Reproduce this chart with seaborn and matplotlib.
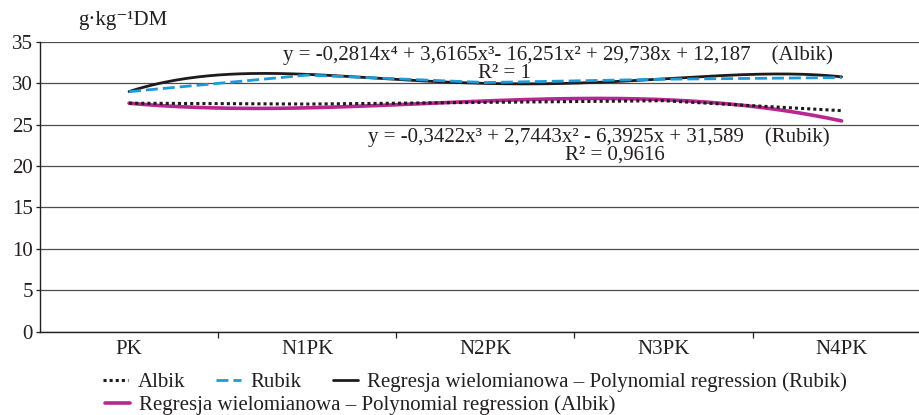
import numpy as np
import matplotlib
matplotlib.use("Agg")
import matplotlib.pyplot as plt
import seaborn as sns

# Values
treatments = ['PK', 'N1PK', 'N2PK', 'N3PK', 'N4PK']
albik = [27.6, 27.5, 27.7, 27.9, 26.7]
rubik = [29.0, 31.0, 30.1, 30.5, 30.7]

# Trendline coefficients as printed on the chart (highest power first, x = 1..5)
coef_rubik = [-0.2814, 3.6165, -16.251, 29.738, 12.187]
coef_albik = [-0.3422, 2.7443, -6.3925, 31.589]

eq_top = "y = -0,2814x\u2074 + 3,6165x\u00b3- 16,251x\u00b2 + 29,738x + 12,187    (Albik)"
r2_top = "R\u00b2 = 1"
eq_bottom = "y = -0,3422x\u00b3 + 2,7443x\u00b2 - 6,3925x + 31,589    (Rubik)"
r2_bottom = "R\u00b2 = 0,9616"

sns.set_theme(style="white")
plt.rcParams['font.family'] = ['Liberation Serif', 'DejaVu Serif']

W, H = 920, 415
fig = plt.figure(figsize=(W / 100, H / 100), dpi=100)
ax = fig.add_axes([40 / W, (H - 331.5) / H, 880 / W, 289.5 / H])

x_pos = np.arange(len(treatments))
x_fine = np.linspace(1, 5, 200)

## Regression curves
sns.lineplot(x=x_fine - 1, y=np.polyval(coef_albik, x_fine), color='#b8278f', linewidth=2.6, ax=ax)
sns.lineplot(x=x_fine - 1, y=np.polyval(coef_rubik, x_fine), color='#1f1a1c', linewidth=2.0, ax=ax)

## Measured series
sns.lineplot(x=x_pos, y=albik, color='#1f1a1c', linewidth=2.2, linestyle=(0, (1, 1)), ax=ax)
sns.lineplot(x=x_pos, y=rubik, color='#1e9ad8', linewidth=2.0, linestyle=(0, (4.3, 1.8)), ax=ax)

line_reg_albik, line_reg_rubik, line_albik, line_rubik = ax.lines[:4]

ax.set_xlim(-0.5, 4.44)
ax.set_ylim(0, 35)
ax.set_yticks(range(0, 36, 5))
ax.yaxis.grid(True, color='#4d4d4d', linewidth=0.9)
ax.set_axisbelow(True)
ax.tick_params(axis='y', labelsize=15, length=3, width=0.9, pad=2, colors='#231f20', left=True)
ax.set_xticks([0.5, 1.5, 2.5, 3.5])
ax.set_xticklabels([])
ax.set_xticks(x_pos, minor=True)
ax.set_xticklabels(treatments, minor=True)
ax.tick_params(axis='x', which='major', length=4, width=0.9, direction='out', bottom=True, colors='#231f20')
ax.tick_params(axis='x', which='minor', length=0, labelsize=15, pad=6, colors='#231f20')
for side in ['top', 'right']:
    ax.spines[side].set_visible(False)
for side in ['left', 'bottom']:
    ax.spines[side].set_color('#231f20')
    ax.spines[side].set_linewidth(1.0)

fig.text(78 / W, 1 - 20 / H, "g\u00b7kg\u207b\u00b9DM", fontsize=15, va='center', ha='left', color='#231f20')

fig.text(283 / W, 1 - 55 / H, eq_top, fontsize=15, va='center', ha='left', color='#231f20')
fig.text(478 / W, 1 - 73 / H, r2_top, fontsize=15, va='center', ha='left', color='#231f20')
fig.text(368 / W, 1 - 137 / H, eq_bottom, fontsize=15, va='center', ha='left', color='#231f20')
fig.text(565 / W, 1 - 155 / H, r2_bottom, fontsize=15, va='center', ha='left', color='#231f20')

leg_kw = dict(frameon=False, fontsize=15, handlelength=1.2, handletextpad=0.45,
              borderpad=0, borderaxespad=0, labelcolor='#231f20')
leg1 = fig.legend([line_albik, line_rubik, line_reg_rubik],
                  ['Albik', 'Rubik', 'Regresja wielomianowa \u2013 Polynomial regression (Rubik)'],
                  loc='center left', bbox_to_anchor=(103 / W, 1 - 382 / H), ncol=3,
                  columnspacing=1.5, **leg_kw)
leg2 = fig.legend([line_reg_albik],
                  ['Regresja wielomianowa \u2013 Polynomial regression (Albik)'],
                  loc='center left', bbox_to_anchor=(105 / W, 1 - 405 / H), **leg_kw)

fig.savefig('out.png', dpi=100)
